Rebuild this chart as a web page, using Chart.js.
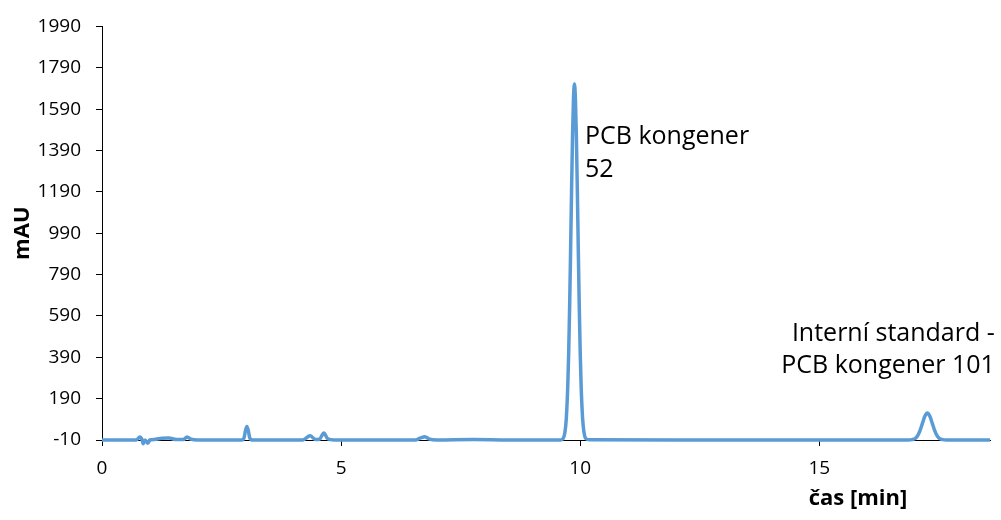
<!DOCTYPE html>
<html>
<head>
<meta charset="utf-8">
<script src="https://cdn.jsdelivr.net/npm/chart.js@4"></script>
<style>
  html, body { margin: 0; padding: 0; background: #fff; }
  #wrap { width: 1001px; height: 520px; }
</style>
</head>
<body>
<div id="wrap"><canvas id="chromChart"></canvas></div>
<script>
// čas [min] / mAU, odečteno z chromatogramu
const time = [
    0.00, 0.40, 0.72, 0.79, 0.84, 0.86, 0.90, 0.96, 1.00, 1.10, 1.25, 1.40, 1.55, 1.70, 1.78, 1.86, 2.00, 2.50,
    2.92, 2.97, 3.00, 3.03, 3.06, 3.09, 3.15, 4.20, 4.35, 4.47, 4.55, 4.64, 4.72, 4.85, 6.55, 6.66, 6.75, 6.85,
    7.00, 7.76, 8.50, 9.58, 9.64, 9.68, 9.71, 9.74, 9.76, 9.78, 9.80, 9.82, 9.84, 9.86, 9.88, 9.90, 9.92, 9.94,
    9.96, 9.98, 10.00, 10.02, 10.05, 10.08, 10.12, 10.20, 12.00, 14.00, 16.86, 16.94, 17.01, 17.06, 17.11, 17.16,
    17.21, 17.26, 17.31, 17.36, 17.41, 17.46, 17.51, 17.58, 17.66, 18.57
];
const mAU = [
    -10, -10, -10, 4, -10, -28, -10, -26, -10, -7, -2, 0, -8, -8, 5, -6, -10, -10,
    -10, 0, 35, 55, 35, 0, -10, -10, 10, -8, -6, 24, -4, -10, -10, 0, 6, -6,
    -10, -8, -10, -10, -4, 26, 96, 250, 417, 643, 915, 1202, 1460, 1640, 1712, 1640, 1460, 1202,
    915, 643, 417, 250, 96, 26, -4, -9, -10, -10, -10, -8, -2, 12, 38, 73,
    106, 120, 106, 73, 38, 12, -2, -8, -10, -10
];

const xTicks = [0, 5, 10, 15];
const yTicks = [-10, 190, 390, 590, 790, 990, 1190, 1390, 1590, 1790, 1990];

// popisky píků: [text, čas, mAU, zarovnání]
const peakLabels = [
    ['PCB kongener', 10.10, 1422, 'left'],
    ['52', 10.10, 1263, 'left'],
    ['Interní standard -', 18.67, 471, 'right'],
    ['PCB kongener 101', 18.67, 312, 'right']
];

const FONT = "'Open Sans', 'Liberation Sans', sans-serif";

const labelsPlugin = {
    id: 'labels',
    afterDraw(chart) {
        const ctx = chart.ctx;
        const x = chart.scales.x, y = chart.scales.y;
        ctx.save();
        ctx.fillStyle = '#000';
        ctx.font = '25px ' + FONT;
        ctx.textBaseline = 'alphabetic';
        peakLabels.forEach(([t, tx, ty, align]) => {
            ctx.textAlign = align;
            ctx.fillText(t, x.getPixelForValue(tx), y.getPixelForValue(ty));
        });
        // název osy x
        ctx.font = 'bold 22px ' + FONT;
        ctx.textAlign = 'center';
        ctx.textBaseline = 'middle';
        ctx.fillText('čas [min]', 858, 499);
        ctx.restore();
    }
};

new Chart(document.getElementById('chromChart'), {
    type: 'scatter',
    data: {
        datasets: [{
            label: 'mAU',
            data: time.map((t, i) => ({ x: t, y: mAU[i] })),
            showLine: true,
            borderColor: '#5B9BD5',
            backgroundColor: '#5B9BD5',
            borderWidth: 3.5,
            pointRadius: 0,
            cubicInterpolationMode: 'monotone',
            clip: false
        }]
    },
    options: {
        responsive: true,
        maintainAspectRatio: false,
        animation: false,
        layout: { padding: { top: 24, right: 11, left: 0, bottom: 0 } },
        plugins: { legend: { display: false }, tooltip: { enabled: false } },
        scales: {
            x: {
                type: 'linear',
                min: 0,
                max: 18.57,
                afterBuildTicks: s => { s.ticks = xTicks.map(v => ({ value: v })); },
                afterFit: s => { s.height = 80; },
                grid: { drawOnChartArea: false, drawTicks: true, tickLength: 6, color: '#000' },
                border: { display: true, color: '#000', width: 1 },
                ticks: { color: '#000', padding: 11, font: { family: FONT, size: 19 }, callback: v => String(v) }
            },
            y: {
                min: -10,
                max: 1990,
                afterBuildTicks: s => { s.ticks = yTicks.map(v => ({ value: v })); },
                afterFit: s => { s.width = 102; },
                grid: { drawOnChartArea: false, drawTicks: true, tickLength: 6, color: '#000' },
                border: { display: true, color: '#000', width: 1 },
                ticks: { color: '#000', padding: 15, font: { family: FONT, size: 19 }, callback: v => String(v) },
                title: {
                    display: true,
                    text: 'mAU',
                    color: '#000',
                    font: { family: FONT, size: 22, weight: 'bold' },
                    padding: { top: 10, bottom: 0 }
                }
            }
        }
    },
    plugins: [labelsPlugin]
});
</script>
</body>
</html>
